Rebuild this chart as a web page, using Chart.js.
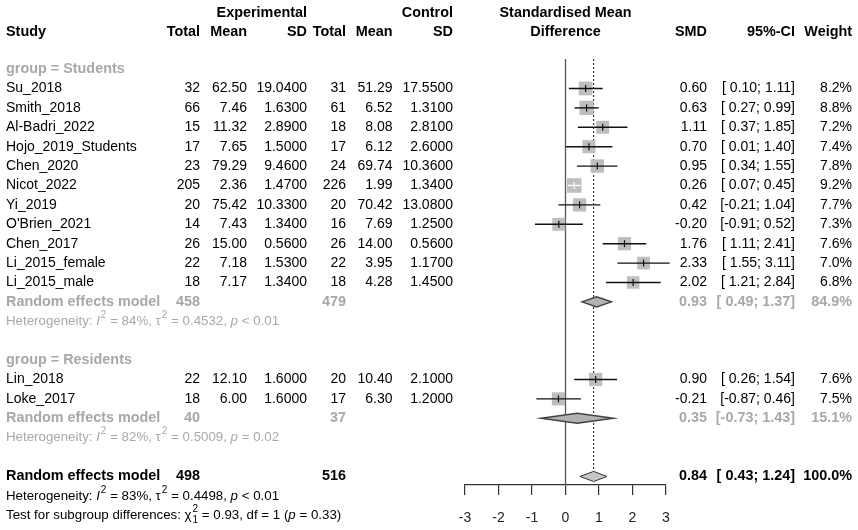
<!DOCTYPE html>
<html>
<head>
<meta charset="utf-8">
<script src="https://cdn.jsdelivr.net/npm/chart.js@4.4.1/dist/chart.umd.min.js"></script>
<style>
  html, body { margin: 0; padding: 0; background: #fff; }
  #wrap { width: 858px; height: 530px; }
</style>
</head>
<body>
<div id="wrap"><canvas id="forest" width="858" height="530"></canvas></div>
<script>
// study level data
var studyNames = ['Su_2018', 'Smith_2018', 'Al-Badri_2022', 'Hojo_2019_Students', 'Chen_2020', 'Nicot_2022',
  'Yi_2019', "O'Brien_2021", 'Chen_2017', 'Li_2015_female', 'Li_2015_male', 'Lin_2018', 'Loke_2017'];
var studyGroup = [0, 0, 0, 0, 0, 0, 0, 0, 0, 0, 0, 1, 1];
var expTotal = [32, 66, 15, 17, 23, 205, 20, 14, 26, 22, 18, 22, 18];
var expMean = [62.50, 7.46, 11.32, 7.65, 79.29, 2.36, 75.42, 7.43, 15.00, 7.18, 7.17, 12.10, 6.00];
var expSD = [19.04, 1.63, 2.89, 1.50, 9.46, 1.47, 10.33, 1.34, 0.56, 1.53, 1.34, 1.60, 1.60];
var ctrlTotal = [31, 61, 18, 17, 24, 226, 20, 16, 26, 22, 18, 20, 17];
var ctrlMean = [51.29, 6.52, 8.08, 6.12, 69.74, 1.99, 70.42, 7.69, 14.00, 3.95, 4.28, 10.40, 6.30];
var ctrlSD = [17.55, 1.31, 2.81, 2.60, 10.36, 1.34, 13.08, 1.25, 0.56, 1.17, 1.45, 2.10, 1.20];
var smd = [0.60, 0.63, 1.11, 0.70, 0.95, 0.26, 0.42, -0.20, 1.76, 2.33, 2.02, 0.90, -0.21];
var ciLow = [0.10, 0.27, 0.37, 0.01, 0.34, 0.07, -0.21, -0.91, 1.11, 1.55, 1.21, 0.26, -0.87];
var ciHigh = [1.11, 0.99, 1.85, 1.40, 1.55, 0.45, 1.04, 0.52, 2.41, 3.11, 2.84, 1.54, 0.46];
var weight = [8.2, 8.8, 7.2, 7.4, 7.8, 9.2, 7.7, 7.3, 7.6, 7.0, 6.8, 7.6, 7.5];

// subgroup summaries
var groupNames = ['Students', 'Residents'];
var groupExpTotal = [458, 40];
var groupCtrlTotal = [479, 37];
var groupSmd = [0.93, 0.35];
var groupLow = [0.49, -0.73];
var groupHigh = [1.37, 1.43];
var groupWeight = [84.9, 15.1];
var groupI2 = ['84%', '82%'];
var groupTau2 = ['0.4532', '0.5009'];
var groupP = ['< 0.01', '= 0.02'];

// overall
var overallExpTotal = 498;
var overallCtrlTotal = 516;
var overallSmd = 0.84;
var overallLow = 0.43;
var overallHigh = 1.24;
var overallWeight = 100.0;
var overallI2 = '83%';
var overallTau2 = '0.4498';
var overallP = '< 0.01';
var subgroupChi2 = '0.93';
var subgroupDf = '1';
var subgroupP = '0.33';

var xTicks = [-3, -2, -1, 0, 1, 2, 3];

var FONT = '"Liberation Sans", Arial, sans-serif';
var GREY = '#a8a8a8';

// row numbers for every line of the table
var studyRow = [], groupRow = [], subRow = [], hetRow = [];
var r = 0;
groupNames.forEach(function(g, gi) {
    groupRow[gi] = r++;
    studyNames.forEach(function(s, i) {
        if (studyGroup[i] === gi) studyRow[i] = r++;
    });
    subRow[gi] = r++;
    hetRow[gi] = r++;
    r++;
});
var overallRow = r, overallHetRow = r + 1, testRow = r + 2;

function squareSide(w) { return 4.8 * Math.sqrt(w); }

function ciInsideSquare(chart, i) {
    var xs = chart.scales.x;
    return xs.getPixelForValue(ciHigh[i]) - xs.getPixelForValue(ciLow[i]) < squareSide(weight[i]);
}

function fmtCI(lo, hi) {
    var f = function(v) { return (v >= 0 ? ' ' : '') + v.toFixed(2); };
    return '[' + f(lo) + ';' + ' ' + hi.toFixed(2) + ']';
}

var datasets = [];
// squares
datasets.push({
    type: 'scatter',
    data: smd.map(function(v, i) { return { x: v, y: studyRow[i] }; }),
    pointStyle: 'rect',
    pointRadius: weight.map(function(w) { return squareSide(w) / Math.SQRT2; }),
    pointHoverRadius: weight.map(function(w) { return squareSide(w) / Math.SQRT2; }),
    backgroundColor: '#bebebe',
    borderWidth: 0,
    clip: false,
    order: 3
});
// confidence interval lines
studyNames.forEach(function(s, i) {
    datasets.push({
        type: 'line',
        data: [{ x: ciLow[i], y: studyRow[i] }, { x: ciHigh[i], y: studyRow[i] }],
        borderColor: function(ctx) { return ciInsideSquare(ctx.chart, i) ? '#ffffff' : '#111111'; },
        borderWidth: 1.4,
        pointRadius: 0,
        fill: false,
        clip: false,
        order: 2
    });
});
// small vertical mark at the estimate
datasets.push({
    type: 'scatter',
    data: smd.map(function(v, i) { return { x: v, y: studyRow[i] }; }),
    pointStyle: 'line',
    rotation: 90,
    pointRadius: 3.5,
    borderWidth: 1.2,
    borderColor: function(ctx) { return ciInsideSquare(ctx.chart, ctx.dataIndex) ? '#ffffff' : '#111111'; },
    clip: false,
    order: 1
});

function drawRich(ctx, x, y, parts, size, color) {
    var cx = x;
    ctx.fillStyle = color;
    ctx.textAlign = 'left';
    ctx.textBaseline = 'middle';
    parts.forEach(function(p) {
        var t = p[0], k = p[1];
        if (k === 'sup') {
            ctx.font = Math.round(size * 0.72) + 'px ' + FONT;
            ctx.fillText(t, cx + 1, y - size * 0.45);
            cx += ctx.measureText(t).width + 1;
        } else if (k === 'supsub') {
            ctx.font = Math.round(size * 0.72) + 'px ' + FONT;
            ctx.fillText(t[0], cx + 1, y - size * 0.45);
            ctx.fillText(t[1], cx + 1, y + size * 0.4);
            cx += Math.max(ctx.measureText(t[0]).width, ctx.measureText(t[1]).width) + 1;
        } else {
            ctx.font = (k === 'i' ? 'italic ' : '') + size + 'px ' + FONT;
            ctx.fillText(t, cx, y);
            cx += ctx.measureText(t).width;
        }
    });
}

function hetParts(i2, tau2, p) {
    return [['Heterogeneity: ', 'n'], ['I', 'i'], ['2', 'sup'], [' = ' + i2 + ', ', 'n'], ['\u03c4', 'n'], ['2', 'sup'],
        [' = ' + tau2 + ', ', 'n'], ['p', 'i'], [' ' + p, 'n']];
}

function txt(ctx, s, x, y, align, bold, color, size) {
    ctx.font = (bold ? 'bold ' : '') + (size || (bold ? 14.4 : 14)) + 'px ' + FONT;
    ctx.fillStyle = color || '#000';
    ctx.textAlign = align;
    ctx.textBaseline = 'middle';
    ctx.fillText(s, x, y);
}

// column right edges
var COL = { study: 6, eT: 200, eM: 247, eS: 307, cT: 346, cM: 392.5, cS: 453, smd: 707, ci: 795, w: 852 };

var forestPlugin = {
    id: 'forest',
    beforeDatasetsDraw: function(chart) {
        var ctx = chart.ctx, xs = chart.scales.x, ys = chart.scales.y, a = chart.chartArea;
        var rowH = ys.getPixelForValue(1) - ys.getPixelForValue(0);
        ctx.save();
        var x0 = xs.getPixelForValue(0);
        ctx.strokeStyle = '#555';
        ctx.lineWidth = 1.3;
        ctx.beginPath(); ctx.moveTo(x0, a.top); ctx.lineTo(x0, a.bottom); ctx.stroke();
        var xm = xs.getPixelForValue(overallSmd);
        ctx.strokeStyle = '#111';
        ctx.lineWidth = 1;
        ctx.setLineDash([2, 2]);
        ctx.beginPath(); ctx.moveTo(xm, a.top); ctx.lineTo(xm, ys.getPixelForValue(overallRow) - 0.26 * rowH); ctx.stroke();
        ctx.restore();
    },
    afterDatasetsDraw: function(chart) {
        var ctx = chart.ctx, xs = chart.scales.x, ys = chart.scales.y;
        var rowH = ys.getPixelForValue(1) - ys.getPixelForValue(0);
        function diamond(lo, est, hi, row, fill, stroke, lw) {
            var y = ys.getPixelForValue(row), h = 0.26 * rowH;
            ctx.beginPath();
            ctx.moveTo(xs.getPixelForValue(lo), y);
            ctx.lineTo(xs.getPixelForValue(est), y - h);
            ctx.lineTo(xs.getPixelForValue(hi), y);
            ctx.lineTo(xs.getPixelForValue(est), y + h);
            ctx.closePath();
            ctx.fillStyle = fill; ctx.fill();
            ctx.strokeStyle = stroke; ctx.lineWidth = lw; ctx.stroke();
        }
        ctx.save();
        groupNames.forEach(function(g, gi) {
            diamond(groupLow[gi], groupSmd[gi], groupHigh[gi], subRow[gi], '#b2b2b2', '#444', 1.5);
        });
        diamond(overallLow, overallSmd, overallHigh, overallRow, '#c6c6c6', '#333', 1);
        ctx.restore();
    },
    afterDraw: function(chart) {
        var ctx = chart.ctx, ys = chart.scales.y, a = chart.chartArea;
        var Y = function(row) { return ys.getPixelForValue(row); };
        var cx = (a.left + a.right) / 2;
        ctx.save();
        // headers
        var h1 = Y(-2.9), h2 = Y(-1.9);
        txt(ctx, 'Experimental', COL.eS, h1, 'right', true);
        txt(ctx, 'Control', COL.cS, h1, 'right', true);
        txt(ctx, 'Standardised Mean', cx, h1, 'center', true);
        txt(ctx, 'Study', COL.study, h2, 'left', true);
        txt(ctx, 'Total', COL.eT, h2, 'right', true);
        txt(ctx, 'Mean', COL.eM, h2, 'right', true);
        txt(ctx, 'SD', COL.eS, h2, 'right', true);
        txt(ctx, 'Total', COL.cT, h2, 'right', true);
        txt(ctx, 'Mean', COL.cM, h2, 'right', true);
        txt(ctx, 'SD', COL.cS, h2, 'right', true);
        txt(ctx, 'Difference', cx, h2, 'center', true);
        txt(ctx, 'SMD', COL.smd, h2, 'right', true);
        txt(ctx, '95%-CI', COL.ci, h2, 'right', true);
        txt(ctx, 'Weight', COL.w, h2, 'right', true);

        // study rows
        studyNames.forEach(function(s, i) {
            var y = Y(studyRow[i]);
            txt(ctx, s, COL.study, y, 'left');
            txt(ctx, String(expTotal[i]), COL.eT, y, 'right');
            txt(ctx, expMean[i].toFixed(2), COL.eM, y, 'right');
            txt(ctx, expSD[i].toFixed(4), COL.eS, y, 'right');
            txt(ctx, String(ctrlTotal[i]), COL.cT, y, 'right');
            txt(ctx, ctrlMean[i].toFixed(2), COL.cM, y, 'right');
            txt(ctx, ctrlSD[i].toFixed(4), COL.cS, y, 'right');
            txt(ctx, smd[i].toFixed(2), COL.smd, y, 'right');
            txt(ctx, fmtCI(ciLow[i], ciHigh[i]), COL.ci, y, 'right');
            txt(ctx, weight[i].toFixed(1) + '%', COL.w, y, 'right');
        });

        // subgroups
        groupNames.forEach(function(g, gi) {
            txt(ctx, 'group = ' + g, COL.study, Y(groupRow[gi]), 'left', true, GREY);
            var y = Y(subRow[gi]);
            txt(ctx, 'Random effects model', COL.study, y, 'left', true, GREY);
            txt(ctx, String(groupExpTotal[gi]), COL.eT, y, 'right', true, GREY);
            txt(ctx, String(groupCtrlTotal[gi]), COL.cT, y, 'right', true, GREY);
            txt(ctx, groupSmd[gi].toFixed(2), COL.smd, y, 'right', true, GREY);
            txt(ctx, fmtCI(groupLow[gi], groupHigh[gi]), COL.ci, y, 'right', true, GREY);
            txt(ctx, groupWeight[gi].toFixed(1) + '%', COL.w, y, 'right', true, GREY);
            drawRich(ctx, COL.study, Y(hetRow[gi]), hetParts(groupI2[gi], groupTau2[gi], groupP[gi]), 13.3, GREY);
        });

        // overall
        var yo = Y(overallRow);
        txt(ctx, 'Random effects model', COL.study, yo, 'left', true);
        txt(ctx, String(overallExpTotal), COL.eT, yo, 'right', true);
        txt(ctx, String(overallCtrlTotal), COL.cT, yo, 'right', true);
        txt(ctx, overallSmd.toFixed(2), COL.smd, yo, 'right', true);
        txt(ctx, fmtCI(overallLow, overallHigh), COL.ci, yo, 'right', true);
        txt(ctx, overallWeight.toFixed(1) + '%', COL.w, yo, 'right', true);
        drawRich(ctx, COL.study, Y(overallHetRow), hetParts(overallI2, overallTau2, overallP), 13.3, '#000');
        drawRich(ctx, COL.study, Y(testRow), [['Test for subgroup differences: ', 'n'], ['\u03c7', 'n'],
            [[ '2', '1' ], 'supsub'], [' = ' + subgroupChi2 + ', df = ' + subgroupDf + ' (', 'n'], ['p', 'i'],
            [' = ' + subgroupP + ')', 'n']], 13.3, '#000');
        ctx.restore();
    }
};

var chart = new Chart(document.getElementById('forest').getContext('2d'), {
    type: 'scatter',
    data: { datasets: datasets },
    options: {
        responsive: false,
        animation: false,
        events: [],
        layout: { padding: { left: 465, right: 192, top: 59, bottom: 0 } },
        scales: {
            x: {
                type: 'linear',
                min: xTicks[0],
                max: xTicks[xTicks.length - 1],
                afterBuildTicks: function(s) { s.ticks = xTicks.map(function(v) { return { value: v }; }); },
                afterFit: function(s) { s.height = 45; },
                ticks: { font: { family: FONT, size: 14 }, color: '#222', padding: 15, maxRotation: 0 },
                grid: { drawOnChartArea: false, drawTicks: true, tickLength: 10, color: '#333', lineWidth: 1.2 },
                border: { display: true, color: '#333', width: 1.2 }
            },
            y: { type: 'linear', reverse: true, min: -0.52, max: 21.44, display: false }
        },
        plugins: { legend: { display: false }, tooltip: { enabled: false } }
    },
    plugins: [forestPlugin]
});
</script>
</body>
</html>
